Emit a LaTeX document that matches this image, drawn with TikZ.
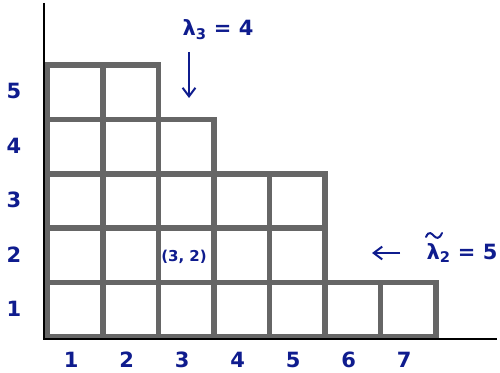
\documentclass[tikz,border=0pt]{standalone}
\usepackage{fontspec}
\setmainfont{DejaVu Sans}
\usetikzlibrary{arrows.meta, positioning}
\definecolor{ydInk}{HTML}{0F1C8E}
\definecolor{ydGrey}{HTML}{666666}

\begin{document}
\begin{tikzpicture}[
    x=1pt, y=1pt,
    cell/.style={draw=ydGrey, line width=5.5pt},
    axis/.style={line width=2.6pt, black},
    lab/.style={text=ydInk, font=\fontsize{21}{21}\selectfont\bfseries, inner sep=1pt},
    small/.style={text=ydInk, font=\fontsize{15}{15}\selectfont\bfseries, inner sep=1pt},
    pt/.style={-{Straight Barb[length=3mm, width=4.5mm]}, line width=2pt, draw=ydInk},
  ]
  \useasboundingbox (0,0) rectangle (500,372);
  % cells are 55.5 wide and 54.4 high, origin at (47.5,35)
  \def\cw{55.5}\def\ch{54.4}
  \foreach \c/\h in {1/5, 2/5, 3/4, 4/3, 5/3, 6/1, 7/1}
    \foreach \r in {1,...,\h}
      \draw[cell] ({47.5+(\c-1)*\cw},{35+(\r-1)*\ch}) rectangle ++(\cw,\ch);

  \coordinate (o) at (44,33);
  \coordinate (ytop) at (44,369);
  \coordinate (xend) at (497,33);
  \draw[axis] (ytop) -- (o) -- (xend);

  \foreach \c in {1,...,7}
    \node[lab] (c\c) at ({47.5+(\c-0.5)*\cw-4},12) {\c};
  \foreach \r in {1,...,5}
    \node[lab] (r\r) at (14,{35+(\r-0.5)*\ch+1}) {\r};

  \node[lab] (lam) at (218,342) {λ\textsubscript{3} = 4};
  \coordinate (la) at (189,320);
  \coordinate (lb) at (189,274);
  \draw[pt] (la) -- (lb);

  \node[small] (pos) at (184,115) {(3, 2)};

  \node[lab] (lamt) at (462,119) {λ\textsubscript{2} = 5};
  % tilde over the lambda
  \draw[ydInk, line width=2pt, line cap=round]
    (426,135) .. controls (429,142) and (432,138) .. (434,136)
              .. controls (436,134) and (439,132) .. (442,139);
  \coordinate (ta) at (400,119);
  \coordinate (tb) at (372,119);
  \draw[pt] (ta) -- (tb);
\end{tikzpicture}
\end{document}
